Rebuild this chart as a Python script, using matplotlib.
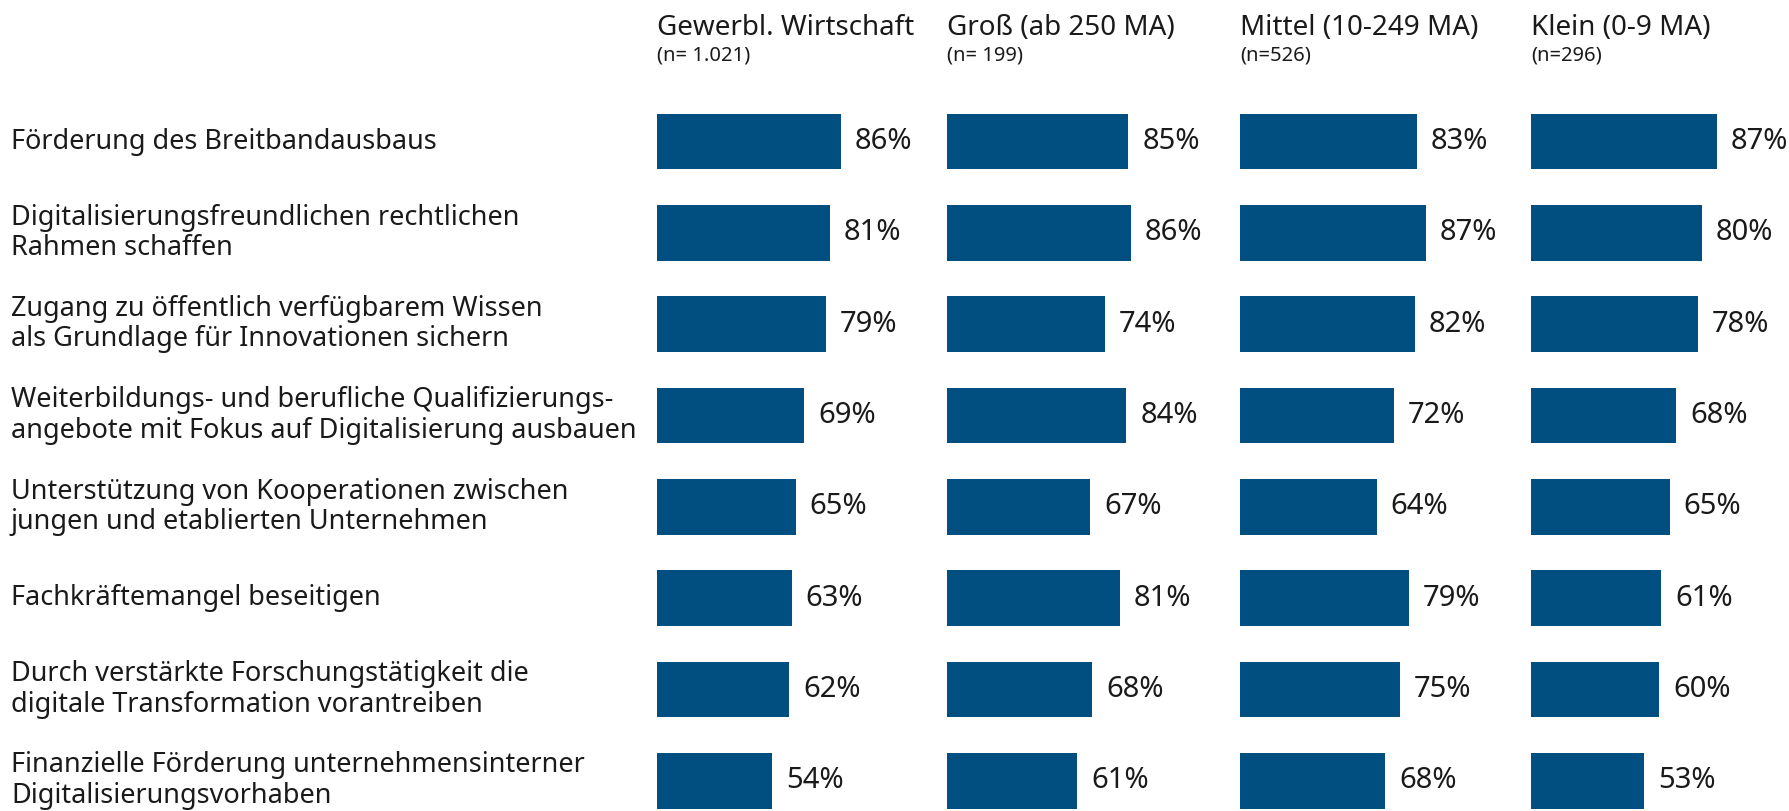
import matplotlib.pyplot as plt

plt.rcParams['font.family'] = ['Noto Sans', 'DejaVu Sans']

categories = [
    "Förderung des Breitbandausbaus",
    "Digitalisierungsfreundlichen rechtlichen\nRahmen schaffen",
    "Zugang zu öffentlich verfügbarem Wissen\nals Grundlage für Innovationen sichern",
    "Weiterbildungs- und berufliche Qualifizierungs-\nangebote mit Fokus auf Digitalisierung ausbauen",
    "Unterstützung von Kooperationen zwischen\njungen und etablierten Unternehmen",
    "Fachkräftemangel beseitigen",
    "Durch verstärkte Forschungstätigkeit die\ndigitale Transformation vorantreiben",
    "Finanzielle Förderung unternehmensinterner\nDigitalisierungsvorhaben",
]

groups = ["Gewerbl. Wirtschaft", "Groß (ab 250 MA)", "Mittel (10-249 MA)", "Klein (0-9 MA)"]
group_n = ["(n= 1.021)", "(n= 199)", "(n=526)", "(n=296)"]

gewerbl = [86, 81, 79, 69, 65, 63, 62, 54]
gross = [85, 86, 74, 84, 67, 81, 68, 61]
mittel = [83, 87, 82, 72, 64, 79, 75, 68]
klein = [87, 80, 78, 68, 65, 61, 60, 53]
values = [gewerbl, gross, mittel, klein]

W, H = 1790, 811
BAR = '#004f80'
TXT = '#1a1a1a'

fig = plt.figure(figsize=(W / 100, H / 100), dpi=100)

# layout in pixels
col_left = [657, 947, 1240, 1531]
full_w = 213.5          # width of a 100% bar
row0, row_step = 141.6, 91.3
y_top = (0 - row0) / row_step
y_bot = (H - row0) / row_step

for i, vals in enumerate(values):
    ax = fig.add_axes([col_left[i] / W, 0, full_w / W, 1])
    ax.barh(range(len(vals)), vals, height=0.61, color=BAR)
    ax.set_xlim(0, 100)
    ax.set_ylim(y_bot, y_top)
    ax.axis('off')
    for j, v in enumerate(vals):
        ax.annotate(f"{v}%", (v, j), xytext=(10, 0), textcoords='offset points',
                    va='center', ha='left', fontsize=21, color=TXT)
    fig.text(col_left[i] / W, 1 - 35 / H, groups[i], fontsize=20, color=TXT,
             ha='left', va='baseline')
    fig.text(col_left[i] / W, 1 - 60 / H, group_n[i], fontsize=14.5, color=TXT,
             ha='left', va='baseline')

for j, lab in enumerate(categories):
    y = row0 + j * row_step
    fig.text(11 / W, 1 - y / H, lab, fontsize=19.5, color=TXT, ha='left',
             va='center', linespacing=1.12)

fig.savefig('out.png', dpi=100)
